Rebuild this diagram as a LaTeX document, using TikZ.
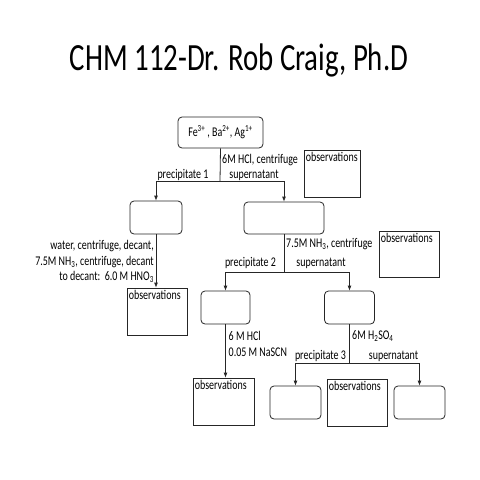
\documentclass[tikz,border=0pt]{standalone}
\usepackage{fontspec}
\setmainfont{Carlito}[FakeStretch=0.75]
\usetikzlibrary{arrows.meta}
\begin{document}
\begin{tikzpicture}[x=1pt,y=-1pt,
 rbox/.style={draw=black!85, line width=0.8pt, rounded corners=4pt, inner sep=0pt},
 obox/.style={draw=black!85, line width=0.8pt, inner sep=0pt,
   label={[lbl, anchor=north west, inner xsep=2pt, inner ysep=2pt]north west:observations}},
 lbl/.style={font=\fontsize{13.3}{16}\selectfont, inner sep=0pt},
 conn/.style={draw=black!85, line width=0.8pt},
 arr/.style={conn, -{Latex[length=5pt,width=4pt]}}]
\useasboundingbox[fill=white] (0,0) rectangle (480,480);
% title
\node[font=\fontsize{38.5}{40}\selectfont, anchor=base, inner sep=0pt] (title) at (239,70) {CHM 112-Dr. Rob Craig, Ph.D};
% boxes
\node[rbox, minimum width=85pt, minimum height=31pt, font=\fontsize{13.3}{16}\selectfont] (top) at (220.5,132.5) {Fe\textsuperscript{3+} , Ba\textsuperscript{2+}, Ag\textsuperscript{1+}};
\node[rbox, minimum width=52pt, minimum height=33pt] (b1) at (156,217.5) {};
\node[rbox, minimum width=80pt, minimum height=32pt] (b2) at (284,218) {};
\node[rbox, minimum width=49pt, minimum height=33pt] (b3) at (225.5,307.5) {};
\node[rbox, minimum width=50pt, minimum height=33pt] (b4) at (349.5,307.5) {};
\node[rbox, minimum width=51pt, minimum height=33pt] (b5) at (295.5,402.5) {};
\node[rbox, minimum width=51pt, minimum height=33pt] (b6) at (419.5,402.5) {};
% observation boxes
\node[obox, minimum width=56pt, minimum height=47pt] (o1) at (332,173.5) {};
\node[obox, minimum width=60pt, minimum height=47pt] (o2) at (157,311.5) {};
\node[obox, minimum width=60pt, minimum height=46pt] (o3) at (409,254) {};
\node[obox, minimum width=61pt, minimum height=47pt] (o4) at (223.5,401.5) {};
\node[obox, minimum width=60pt, minimum height=47pt] (o5) at (357,402.5) {};
% junctions
\coordinate (j1) at (220,181.5);
\coordinate (j2) at (284,272);
\coordinate (j3) at (349.5,363);
% connectors
\draw[conn] (top.south) -- (j1);
\draw[arr] (j1) -| (b1.north);
\draw[arr] (j1) -| (b2.north);
\draw[arr] (b1.south) -- (b1.south |- o2.north);
\draw[conn] (b2.south) -- (j2);
\draw[arr] (j2) -| (b3.north);
\draw[arr] (j2) -| (b4.north);
\draw[arr] (b3.south) -- (b3.south |- o4.north);
\draw[conn] (b4.south) -- (j3);
\draw[arr] (j3) -| (b5.north);
\draw[arr] (j3) -| (b6.north);
% labels
\node[lbl, anchor=base west] (l1) at (222,163) {6M HCl, centrifuge};
\node[lbl, anchor=base] (l2) at (254,178) {supernatant};
\node[lbl, anchor=base] (l3) at (183,178) {precipitate 1};
\node[lbl, anchor=base east] (l4a) at (154,249.5) {water, centrifuge, decant,};
\node[lbl, anchor=base east] (l4b) at (154,265) {7.5M NH\textsubscript{3}, centrifuge, decant};
\node[lbl, anchor=base east] (l4c) at (154,280.5) {to decant:~~6.0 M HNO\textsubscript{3}};
\node[lbl, anchor=base west] (l5) at (286,247) {7.5M NH\textsubscript{3}, centrifuge};
\node[lbl, anchor=base] (l6) at (250.5,266.5) {precipitate 2};
\node[lbl, anchor=base] (l7) at (321,266.5) {supernatant};
\node[lbl, anchor=base west] (l8a) at (228.5,340.7) {6 M HCl};
\node[lbl, anchor=base west] (l8b) at (228.5,356.7) {0.05 M NaSCN};
\node[lbl, anchor=base west] (l9) at (352,339.3) {6M H\textsubscript{2}SO\textsubscript{4}};
\node[lbl, anchor=base] (l10) at (320.5,359.3) {precipitate 3};
\node[lbl, anchor=base] (l11) at (393.5,359.3) {supernatant};
\end{tikzpicture}
\end{document}
